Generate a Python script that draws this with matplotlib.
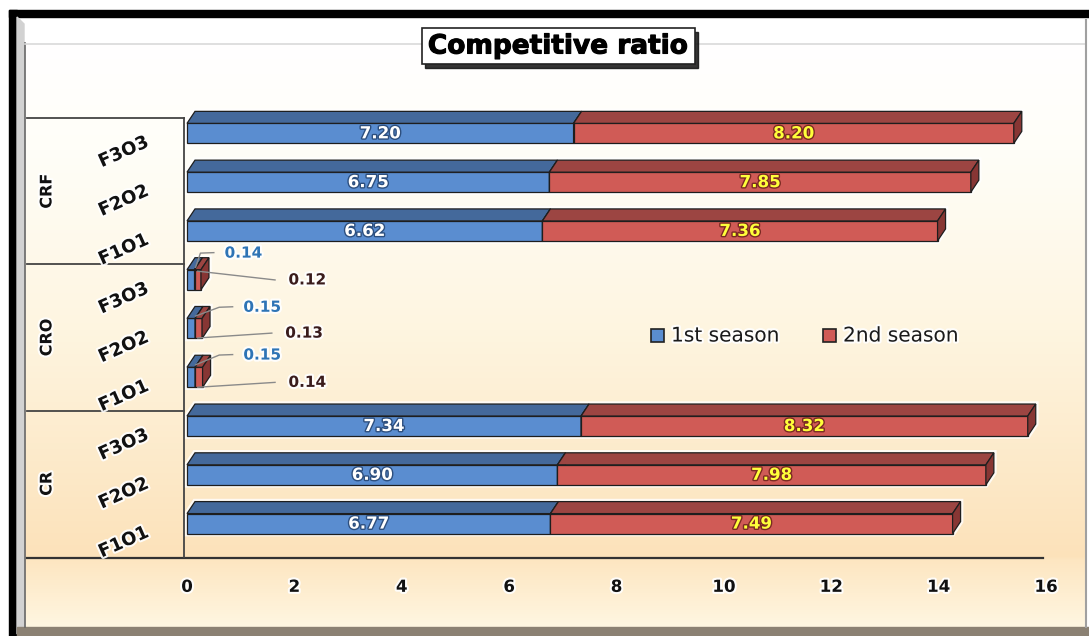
import numpy as np
import matplotlib
matplotlib.use('Agg')
import matplotlib.pyplot as plt
from matplotlib.patches import Polygon, Rectangle
import matplotlib.patheffects as pe

# competitive ratio, bottom row first (CR F1O1) up to CRF F3O3
groups = ['CR', 'CRO', 'CRF']
treatments = ['F1O1', 'F2O2', 'F3O3']
season1 = [6.77, 6.90, 7.34, 0.15, 0.15, 0.14, 6.62, 6.75, 7.20]
season2 = [7.49, 7.98, 8.32, 0.14, 0.13, 0.12, 7.36, 7.85, 8.20]
xticks = [0, 2, 4, 6, 8, 10, 12, 14, 16]
series_names = ['1st season', '2nd season']

W, H = 1089, 636
plt.rcParams['font.family'] = ['DejaVu Sans']

fig = plt.figure(figsize=(W / 100, H / 100), dpi=100)

# ---- background / frame, in pixel coords ----
bg = fig.add_axes([0, 0, 1, 1])
bg.set_xlim(0, W)
bg.set_ylim(H, 0)
bg.axis('off')

stops_y = [43, 150, 330, 557, 560, 627]
stops_c = ['#FFFFFF', '#FFFEF8', '#FEF5E0', '#FCE2BA', '#FDE6C1', '#FFF6E1']
rgb = np.array([matplotlib.colors.to_rgb(c) for c in stops_c])
ys = np.arange(43, 628)
grad = np.stack([np.interp(ys, stops_y, rgb[:, k]) for k in range(3)], axis=1)
bg.imshow(grad[:, None, :], extent=[25, 1085, 627, 43], aspect='auto', zorder=0)

bg.add_patch(Rectangle((9, 10), W - 9, 7, color='black', zorder=1))
bg.add_patch(Rectangle((9, 10), 8, H - 10, color='black', zorder=1))
bg.add_patch(Polygon([(17, 17), (24, 24), (24, 627), (17, 634)], color='#d2d2d2', zorder=1))
bg.add_patch(Rectangle((17, 627), W - 17, 9, color='#8b8173', zorder=1))
bg.plot([24.5, 24.5], [43, 627], color='#666666', lw=1.2, zorder=2)
bg.plot([25, 1085], [43.5, 43.5], color='#d9d9d9', lw=1.2, zorder=2)
bg.plot([1085.5, 1085.5], [20, 627], color='#a0a0a0', lw=1.5, zorder=2)

# bottom axis line / floor edge
bg.plot([27, 1043], [557.5, 557.5], color='#333333', lw=1.6, zorder=3)

# title box with shadow
bg.add_patch(Rectangle((425, 32), 273, 36, color='#111111', alpha=0.85, zorder=3))
bg.add_patch(Rectangle((422, 28), 273, 36, fc='white', ec='#222222', lw=1.2, zorder=4))
bg.text(558, 46.5, 'Competitive ratio', fontsize=19, fontweight='heavy',
        ha='center', va='center', color='black', zorder=5,
        path_effects=[pe.withStroke(linewidth=0.8, foreground='black')])

# ---- colours ----
blue_front, blue_top, blue_side = '#5A8DD0', '#44699B', '#3A5E8E'
red_front, red_top, red_side = '#D05B56', '#9C4542', '#873634'
edge = '#1e1e1e'

# ---- main bar axes ----
x0px, x16px = 187, 1046
ax = fig.add_axes([x0px / W, (H - 557) / H, (x16px - x0px) / W, 439 / H])
ax.set_xlim(0, 16)
ax.set_ylim(-0.5, 8.5)
ax.patch.set_alpha(0)
for s in ax.spines.values():
    s.set_visible(False)
ax.set_yticks([])
ax.set_xticks(xticks)
ax.set_xticklabels([str(t) for t in xticks], fontsize=12, fontweight='bold', color='#111111')
ax.tick_params(axis='x', length=0, pad=15)
for lab in ax.get_xticklabels():
    lab.set_path_effects([pe.withStroke(linewidth=3, foreground='white', alpha=0.9)])

dx = 8 / 53.69     # depth in x (data units)
dy = 12 / 48.78    # depth in y
fh = 20 / 48.78    # front face height
yoff = 0.185       # front face centre above row centre


def box3d(x0, x1, yc, front, top, side, z):
    yb, yt = yc - fh / 2, yc + fh / 2
    ax.add_patch(Polygon([(x0, yb), (x1, yb), (x1, yt), (x0, yt)], closed=True,
                         fc=front, ec=edge, lw=0.9, zorder=z, clip_on=False))
    ax.add_patch(Polygon([(x0, yt), (x0 + dx, yt + dy), (x1 + dx, yt + dy), (x1, yt)],
                         closed=True, fc=top, ec=edge, lw=0.9, zorder=z, clip_on=False))
    ax.add_patch(Polygon([(x1, yb), (x1, yt), (x1 + dx, yt + dy), (x1 + dx, yb + dy)],
                         closed=True, fc=side, ec=edge, lw=0.9, zorder=z, clip_on=False))


for i, (a, b) in enumerate(zip(season1, season2)):
    yc = i + yoff
    yb, yt = yc - fh / 2, yc + fh / 2
    tot = a + b
    # soft white halo round the whole bar
    ax.add_patch(Polygon([(0, yb), (0, yt), (dx, yt + dy), (tot + dx, yt + dy),
                          (tot + dx, yb + dy), (tot, yb)], closed=True, fc='none',
                         ec='white', lw=4, alpha=0.8, zorder=2, clip_on=False))
    box3d(0, a, yc, blue_front, blue_top, blue_side, 3)
    box3d(a, tot, yc, red_front, red_top, red_side, 4)
    if a > 1:
        ax.text(a / 2, yc, f'{a:.2f}', ha='center', va='center', fontsize=12,
                fontweight='bold', color='white', zorder=6,
                path_effects=[pe.withStroke(linewidth=2, foreground='#2d4f7e')])
        ax.text(a + b / 2, yc, f'{b:.2f}', ha='center', va='center', fontsize=12,
                fontweight='bold', color='#FFFF3A', zorder=6,
                path_effects=[pe.withStroke(linewidth=2, foreground='#7a2a22')])

# labels with leader lines for the small CRO bars (rows 3, 4, 5)
cro_rows = [3, 4, 5]
blue_lbl = {3: (1.05, 0.64), 4: (1.05, 0.62), 5: (0.70, 0.73)}
red_lbl = {3: (1.89, 0.08), 4: (1.83, 0.09), 5: (1.89, 0.18)}
red_anchor = {3: -0.02, 4: -0.01, 5: 0.36}
for i in cro_rows:
    a, b = season1[i], season2[i]
    lx, ly = blue_lbl[i]
    ax.plot([0.16, lx - 0.45, lx - 0.2], [i + 0.44, i + ly, i + ly + 0.01],
            color='#8a8a8a', lw=1, zorder=5, clip_on=False)
    ax.text(lx, i + ly, f'{a:.2f}', ha='left', va='center', fontsize=11,
            fontweight='bold', color='#2E74B5', zorder=6,
            path_effects=[pe.withStroke(linewidth=3, foreground='white', alpha=0.9)])
    rx, ry = red_lbl[i]
    ax.plot([0.2, rx - 0.25], [i + red_anchor[i], i + ry],
            color='#8a8a8a', lw=1, zorder=5, clip_on=False)
    ax.text(rx, i + ry, f'{b:.2f}', ha='left', va='center', fontsize=11,
            fontweight='bold', color='#3a1c1c', zorder=6,
            path_effects=[pe.withStroke(linewidth=3, foreground='white', alpha=0.9)])

# ---- category axis on the left ----
cat = fig.add_axes([25 / W, (H - 557) / H, (184 - 25) / W, 439 / H])
cat.set_xlim(0, 1)
cat.set_ylim(-0.5, 8.5)
cat.axis('off')
for yb in [2.5, 5.5, 8.5]:
    cat.plot([0.012, 1], [yb, yb], color='#444444', lw=1.3, clip_on=False)
cat.plot([1, 1], [-0.5, 8.5], color='#444444', lw=1.3, clip_on=False)

glow = [pe.withStroke(linewidth=3, foreground='white', alpha=0.9)]
for g, name in enumerate(groups):
    cat.text(0.138, 3 * g + 1, name, rotation=90, ha='center', va='center',
             fontsize=11.5, fontweight='bold', color='#111111', path_effects=glow)
    for t, tname in enumerate(treatments):
        cat.text(0.62, 3 * g + t - 0.2, tname, rotation=24, ha='center', va='center',
                 fontsize=13, fontweight='bold', color='#111111', path_effects=glow,
                 clip_on=False)

# ---- legend ----
bg.add_patch(Rectangle((651, 329), 13, 13, fc=blue_front, ec='#222222', lw=1.2, zorder=5))
bg.text(671, 336, series_names[0], fontsize=14.5, va='center', ha='left', color='#1a1a1a',
        zorder=5, path_effects=glow)
bg.add_patch(Rectangle((823, 329), 13, 13, fc=red_front, ec='#222222', lw=1.2, zorder=5))
bg.text(843, 336, series_names[1], fontsize=14.5, va='center', ha='left', color='#1a1a1a',
        zorder=5, path_effects=glow)

fig.savefig('out.png', dpi=100)
